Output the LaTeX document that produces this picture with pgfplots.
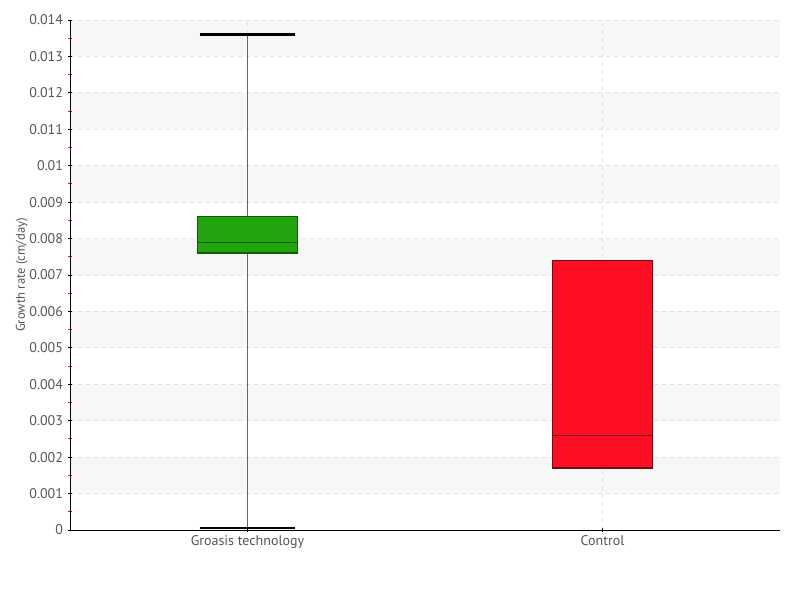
\documentclass[border=0pt]{standalone}
\usepackage{pgfplots}
\pgfplotsset{compat=1.18}
\usepackage{fontspec}
\setmainfont{PT Sans}
\definecolor{tickgray}{HTML}{555555}
\definecolor{bandgray}{HTML}{F7F7F7}
\definecolor{gridgray}{HTML}{E2E2E2}
\definecolor{boxgreen}{HTML}{22A40E}
\definecolor{edgegreen}{HTML}{155A08}
\definecolor{boxred}{HTML}{FF0D25}
\definecolor{edgered}{HTML}{6A0A12}
\begin{document}
\begin{tikzpicture}
\begin{axis}[
  set layers,
  scale only axis,
  width=532.5pt, height=382.5pt,
  xmin=0.5, xmax=2.5,
  ymin=0, ymax=0.014,
  axis x line*=bottom, axis y line*=left,
  axis line style={black, -, line width=0.7pt},
  xtick={1,2},
  xticklabels={Groasis technology, Control},
  ytick={0,0.001,0.002,0.003,0.004,0.005,0.006,0.007,0.008,0.009,0.01,0.011,0.012,0.013,0.014},
  minor y tick num=1,
  scaled y ticks=false,
  yticklabel style={/pgf/number format/fixed, /pgf/number format/precision=3},
  /pgf/number format/assume math mode=true,
  ticklabel style={font=\fontsize{10.5}{12}\selectfont, text=tickgray},
  tick align=center,
  major tick length=3.5pt,
  minor tick length=2.4pt,
  every tick/.style={black, line width=0.7pt},
  every minor tick/.style={red, line width=0.8pt},
  ymajorgrids, xmajorgrids,
  major grid style={gridgray, dashed, line width=0.6pt},
  ylabel={Growth rate (cm/day)},
  every axis y label/.style={at={(axis description cs:-0.068,0.5)}, rotate=90, anchor=center,
    font=\fontsize{9.5}{11}\selectfont, text=tickgray},
  xticklabel style={yshift=1pt},
]
\begin{pgfonlayer}{axis background}
  \fill[bandgray] (axis cs:0.5,0.001) rectangle (axis cs:2.5,0.002);
  \fill[bandgray] (axis cs:0.5,0.003) rectangle (axis cs:2.5,0.004);
  \fill[bandgray] (axis cs:0.5,0.005) rectangle (axis cs:2.5,0.006);
  \fill[bandgray] (axis cs:0.5,0.007) rectangle (axis cs:2.5,0.008);
  \fill[bandgray] (axis cs:0.5,0.009) rectangle (axis cs:2.5,0.010);
  \fill[bandgray] (axis cs:0.5,0.011) rectangle (axis cs:2.5,0.012);
  \fill[bandgray] (axis cs:0.5,0.013) rectangle (axis cs:2.5,0.014);
\end{pgfonlayer}
% Groasis technology: whiskers
\addplot[draw=black!60, line width=1.1pt] coordinates {(1,0.0086) (1,0.0136)};
\addplot[draw=black!60, line width=1.1pt] coordinates {(1,0.00005) (1,0.0076)};
\addplot[draw=black, line width=1.8pt] coordinates {(0.866,0.0136) (1.134,0.0136)};
\addplot[draw=black, line width=1.8pt] coordinates {(0.866,0.00005) (1.134,0.00005)};
% Groasis technology: box and median
\addplot[fill=boxgreen, draw=edgegreen, line width=1pt] coordinates
  {(0.859,0.0076) (1.141,0.0076) (1.141,0.0086) (0.859,0.0086)} -- cycle;
\addplot[draw=edgegreen, line width=1pt] coordinates {(0.859,0.0079) (1.141,0.0079)};
% Control: box and median
\addplot[fill=boxred, draw=edgered, line width=1pt] coordinates
  {(1.859,0.0017) (2.141,0.0017) (2.141,0.0074) (1.859,0.0074)} -- cycle;
\addplot[draw=edgered, line width=1pt] coordinates {(1.859,0.0026) (2.141,0.0026)};
\end{axis}
\path (current axis.south west) ++(-52.5pt,-52.5pt) coordinate (bbsw);
\path (current axis.north east) ++(15pt,15pt) coordinate (bbne);
\useasboundingbox (bbsw) rectangle (bbne);
\end{tikzpicture}
\end{document}
